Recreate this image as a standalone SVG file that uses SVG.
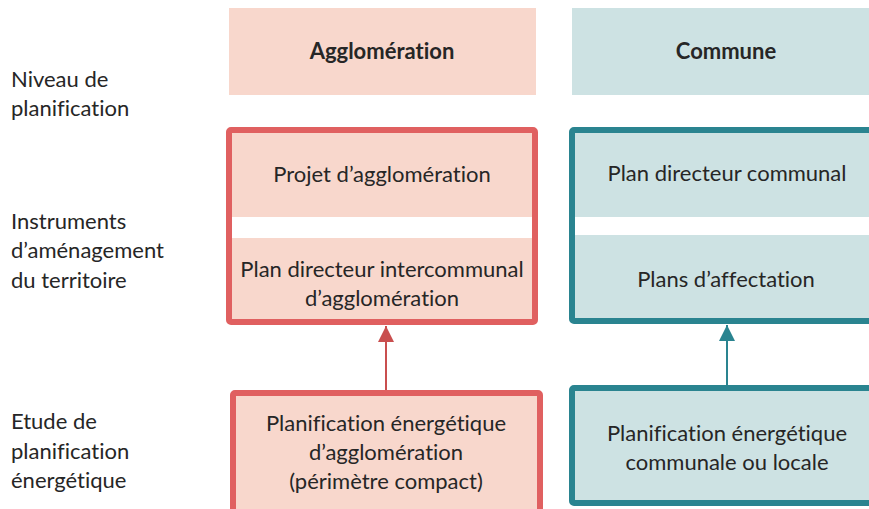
<svg xmlns="http://www.w3.org/2000/svg" width="869" height="509" viewBox="0 0 869 509">
<style>
text{font-family:Lato,"Open Sans","Liberation Sans",sans-serif;font-size:22px;fill:#262626;font-variant-ligatures:none}
.c{text-anchor:middle}
.b{font-weight:bold}
.red{fill:#F8D7CC;stroke:#E06060;stroke-width:6}
.teal{fill:#CDE2E3;stroke:#2A8490;stroke-width:6}
.hr{fill:#F8D7CC}
.ht{fill:#CDE2E3}
.gap{fill:#FFFFFF}
</style>
<defs>
<marker id="ar" markerWidth="16" markerHeight="16" refX="16" refY="8" orient="auto" markerUnits="userSpaceOnUse" viewBox="0 0 16 16"><path d="M0,0 L16,8 L0,16 Z" fill="#C94F4F"/></marker>
<marker id="at" markerWidth="16" markerHeight="16" refX="16" refY="8" orient="auto" markerUnits="userSpaceOnUse" viewBox="0 0 16 16"><path d="M0,0 L16,8 L0,16 Z" fill="#2A8490"/></marker>
</defs>
<g id="labels">
<text x="11" y="87">Niveau de</text>
<text x="11" y="116">planification</text>
<text x="11" y="229">Instruments</text>
<text x="11" y="258">d’aménagement</text>
<text x="11" y="288">du territoire</text>
<text x="11" y="429">Etude de</text>
<text x="11" y="459">planification</text>
<text x="11" y="488">énergétique</text>
</g>
<g id="head-agglo">
<rect class="hr" x="229" y="8" width="307" height="87"/>
<text class="c b" x="382" y="59">Agglomération</text>
</g>
<g id="head-commune">
<rect class="ht" x="572" y="8" width="300" height="87"/>
<text class="c b" x="726" y="59">Commune</text>
</g>
<g id="agglo-instruments">
<rect class="red" x="229" y="130" width="306" height="192" rx="2"/>
<rect class="gap" x="232" y="217" width="300" height="21"/>
<text class="c" x="382" y="182">Projet d’agglomération</text>
<text class="c" x="382" y="277">Plan directeur intercommunal</text>
<text class="c" x="382" y="306">d’agglomération</text>
</g>
<g id="commune-instruments">
<rect class="teal" x="572" y="130" width="310" height="191" rx="2"/>
<rect class="gap" x="575" y="217" width="300" height="18"/>
<text class="c" x="727" y="181">Plan directeur communal</text>
<text class="c" x="726" y="287">Plans d’affectation</text>
</g>
<g id="agglo-energy">
<rect class="red" x="233" y="393" width="307" height="130" rx="2"/>
<text class="c" x="386" y="431">Planification énergétique</text>
<text class="c" x="386" y="460">d’agglomération</text>
<text class="c" x="386" y="489">(périmètre compact)</text>
</g>
<g id="commune-energy">
<rect class="teal" x="572" y="388" width="310" height="115" rx="2"/>
<text class="c" x="727" y="441">Planification énergétique</text>
<text class="c" x="727" y="470">communale ou locale</text>
</g>
<g id="connectors">
<line x1="386" y1="390" x2="386" y2="326" stroke="#C94F4F" stroke-width="2" marker-end="url(#ar)"/>
<line x1="727" y1="385" x2="727" y2="325" stroke="#2A8490" stroke-width="2" marker-end="url(#at)"/>
</g>
</svg>
